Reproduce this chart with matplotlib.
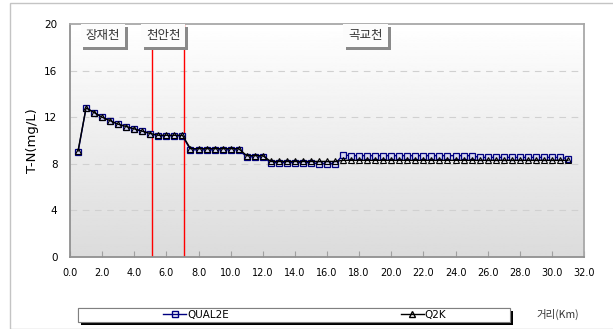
import numpy as np
import matplotlib
matplotlib.use("Agg")
import matplotlib.pyplot as plt
from matplotlib.patches import Rectangle
from matplotlib.lines import Line2D
import matplotlib.patheffects as pe

plt.rcParams['font.family'] = ['DejaVu Sans', 'Noto Sans CJK KR']

# 거리 (km)
dist = [0.5, 1.0, 1.5, 2.0, 2.5, 3.0, 3.5, 4.0, 4.5, 5.0,
        5.5, 6.0, 6.5, 7.0, 7.5, 8.0, 8.5, 9.0, 9.5, 10.0,
        10.5, 11.0, 11.5, 12.0, 12.5, 13.0, 13.5, 14.0, 14.5, 15.0,
        15.5, 16.0, 16.5, 17.0, 17.5, 18.0, 18.5, 19.0, 19.5, 20.0,
        20.5, 21.0, 21.5, 22.0, 22.5, 23.0, 23.5, 24.0, 24.5, 25.0,
        25.5, 26.0, 26.5, 27.0, 27.5, 28.0, 28.5, 29.0, 29.5, 30.0,
        30.5, 31.0]

qual2e = [9.0, 12.8, 12.4, 12.0, 11.7, 11.4, 11.2, 11.0, 10.8, 10.6,
          10.4, 10.4, 10.4, 10.4, 9.2, 9.2, 9.2, 9.2, 9.2, 9.2,
          9.2, 8.6, 8.6, 8.6, 8.1, 8.1, 8.1, 8.1, 8.1, 8.1,
          8.0, 8.0, 8.0, 8.75, 8.7, 8.7, 8.7, 8.7, 8.7, 8.7,
          8.7, 8.7, 8.7, 8.7, 8.7, 8.7, 8.7, 8.7, 8.7, 8.7,
          8.55, 8.55, 8.55, 8.55, 8.55, 8.55, 8.55, 8.55, 8.55, 8.55,
          8.55, 8.45]

q2k = [9.1, 12.8, 12.4, 12.0, 11.7, 11.4, 11.2, 11.0, 10.8, 10.6,
       10.45, 10.45, 10.45, 10.45, 9.3, 9.3, 9.3, 9.3, 9.3, 9.3,
       9.3, 8.7, 8.7, 8.7, 8.2, 8.2, 8.2, 8.2, 8.2, 8.2,
       8.2, 8.2, 8.2, 8.3, 8.3, 8.3, 8.3, 8.3, 8.3, 8.3,
       8.3, 8.3, 8.3, 8.3, 8.3, 8.3, 8.3, 8.3, 8.3, 8.3,
       8.3, 8.3, 8.3, 8.3, 8.3, 8.3, 8.3, 8.3, 8.3, 8.3,
       8.3, 8.3]

boundaries = [5.1, 7.1]
streams = ['장재천', '천안천', '곡교천']
stream_x = [2.05, 5.8, 18.4]

W, H = 613, 329
fig = plt.figure(figsize=(W / 100, H / 100), dpi=100)
fig.patch.set_facecolor('white')
fig.patches.append(Rectangle((10 / W, 0), 1, 1 - 3 / H, transform=fig.transFigure,
                             fill=False, edgecolor='#c4c4c4', lw=1))

ax = fig.add_axes([70 / W, 1 - 257 / H, 514 / W, 233 / H])

# gradient background
grad = np.linspace(1.0, 0.86, 256).reshape(-1, 1)
ax.imshow(grad, extent=[0, 1, 0, 1], transform=ax.transAxes, aspect='auto',
          cmap='gray', vmin=0, vmax=1, zorder=0)
ax.set_xlim(0, 32)
ax.set_ylim(0, 20)

for y in [4, 8, 12, 16]:
    ax.axhline(y, color='#d0d0d0', lw=0.8, ls=(0, (6, 5)), zorder=1)

for b in boundaries:
    ax.axvline(b, color='red', lw=1, zorder=2)

ax.plot(dist, qual2e, color='#000080', lw=1, marker='s', ms=4.2,
        mfc='#d8d8f0', mec='#000080', mew=0.9, zorder=3)
ax.plot(dist, q2k, color='black', lw=1, marker='^', ms=4.8,
        mfc='none', mec='black', mew=0.8, zorder=4)

for name, x in zip(streams, stream_x):
    t = ax.text(x, 19.0, name, ha='center', va='center', fontsize=9,
                family=['Noto Sans CJK KR', 'DejaVu Sans'], color='#333333', zorder=5,
                bbox=dict(boxstyle='square,pad=0.4', fc='#fcfcfc', ec='none'))
    t.get_bbox_patch().set_path_effects(
        [pe.withSimplePatchShadow(offset=(2, -2), shadow_rgbFace='#8a8a8a', alpha=1)])

ax.set_xticks(np.arange(0, 33, 2))
ax.set_xticklabels(['%.1f' % v for v in np.arange(0, 33, 2)], fontsize=7)
ax.set_yticks([0, 4, 8, 12, 16, 20])
ax.set_yticklabels(['0', '4', '8', '12', '16', '20'], fontsize=7.5)
ax.tick_params(axis='x', direction='in', length=4, color='#a0a0a0', pad=8)
ax.tick_params(axis='y', length=0, pad=9)
for s in ['top', 'right']:
    ax.spines[s].set_color('#a8a8a8')
    ax.spines[s].set_linewidth(1.3)
for s in ['left', 'bottom']:
    ax.spines[s].set_color('#909090')
    ax.spines[s].set_linewidth(1.3)
ax.set_ylabel('T-N(mg/L)', fontsize=9.5, labelpad=4)

# legend box
lb = Rectangle((78 / W, 1 - 322 / H), 432 / W, 14 / H, transform=fig.transFigure,
               fc='white', ec='#808080', lw=0.8)
lb.set_path_effects([pe.withSimplePatchShadow(offset=(2.5, -2.5), shadow_rgbFace='black', alpha=1),
                     pe.Normal()])
fig.patches.append(lb)
handles = [Line2D([], [], color='#000080', lw=1, marker='s', ms=4, mfc='none', mec='#000080'),
           Line2D([], [], color='black', lw=1, marker='^', ms=5, mfc='none', mec='black')]
fig.legend(handles, ['QUAL2E', 'Q2K'], loc='center left', ncol=2, frameon=False,
           bbox_to_anchor=(158 / W, 1 - 315 / H), fontsize=7.5, handlelength=2.2,
           handletextpad=0.1, columnspacing=16.5, borderpad=0)

fig.text(558 / W, 1 - 314 / H, '거리(Km)', ha='center', va='center', fontsize=7.5,
         family=['Noto Sans CJK KR', 'DejaVu Sans'], color='#333333')

fig.savefig('out.png', dpi=100)
